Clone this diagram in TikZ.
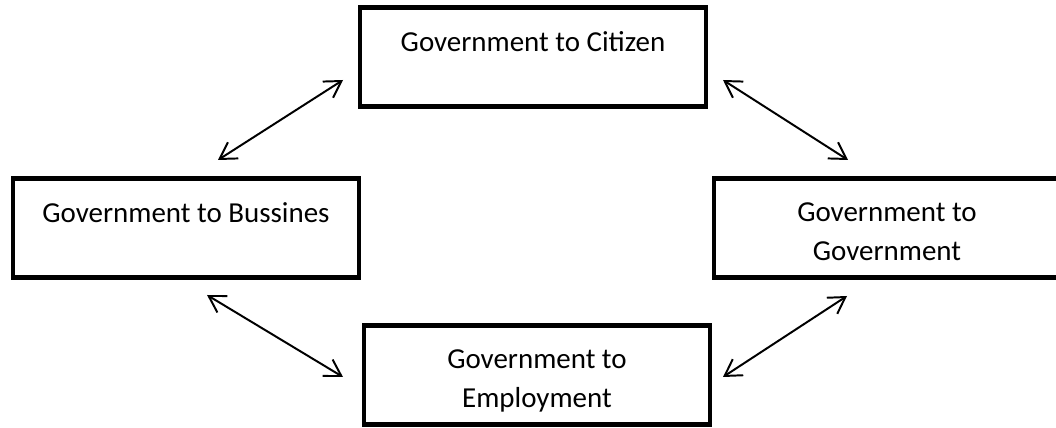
\documentclass[tikz,border=0pt]{standalone}
\usepackage{fontspec}
\setmainfont{Carlito}
\usetikzlibrary{arrows.meta}

\tikzset{
    box/.style={draw, line width=3.4pt, minimum width=8.65cm, minimum height=2.475cm, inner sep=0pt},
    lbl/.style={anchor=north, align=center, inner sep=0pt, font=\fontsize{20.6}{27.7}\selectfont},
    link/.style={{Straight Barb[length=0.4cm,width=0.48cm]}-{Straight Barb[length=0.4cm,width=0.48cm]}, line width=1.4pt}
}

\begin{document}
\begin{tikzpicture}
    \useasboundingbox (0, 0) rectangle (26.4, 10.675);

    % Boxes
    \node[box] (g2c) at (13.325, 9.25) {};
    \node[box] (g2b) at (4.65, 4.975) {};
    \node[box] (g2g) at (22.175, 4.975) {};
    \node[box] (g2e) at (13.425, 1.3) {};

    % Texts, hung from the top of each box
    \node[lbl] (t2c) at ([yshift=-0.66cm]g2c.north) {Government to Citizen};
    \node[lbl] (t2b) at ([yshift=-0.66cm]g2b.north) {Government to Bussines};
    \node[lbl] (t2g) at ([yshift=-0.66cm]g2g.north) {Government to\\Government};
    \node[lbl] (t2e) at ([yshift=-0.66cm]g2e.north) {Government to\\Employment};

    % Arrow ends
    \coordinate (a1) at (5.45, 6.675);
    \coordinate (a2) at (8.575, 8.675);
    \coordinate (b1) at (18.075, 8.675);
    \coordinate (b2) at (21.2, 6.675);
    \coordinate (c1) at (5.175, 3.3);
    \coordinate (c2) at (8.575, 1.25);
    \coordinate (d1) at (18.075, 1.25);
    \coordinate (d2) at (21.175, 3.275);

    % Double arrows between the boxes
    \draw[link] (a1) -- (a2);
    \draw[link] (b1) -- (b2);
    \draw[link] (c1) -- (c2);
    \draw[link] (d1) -- (d2);
\end{tikzpicture}
\end{document}
